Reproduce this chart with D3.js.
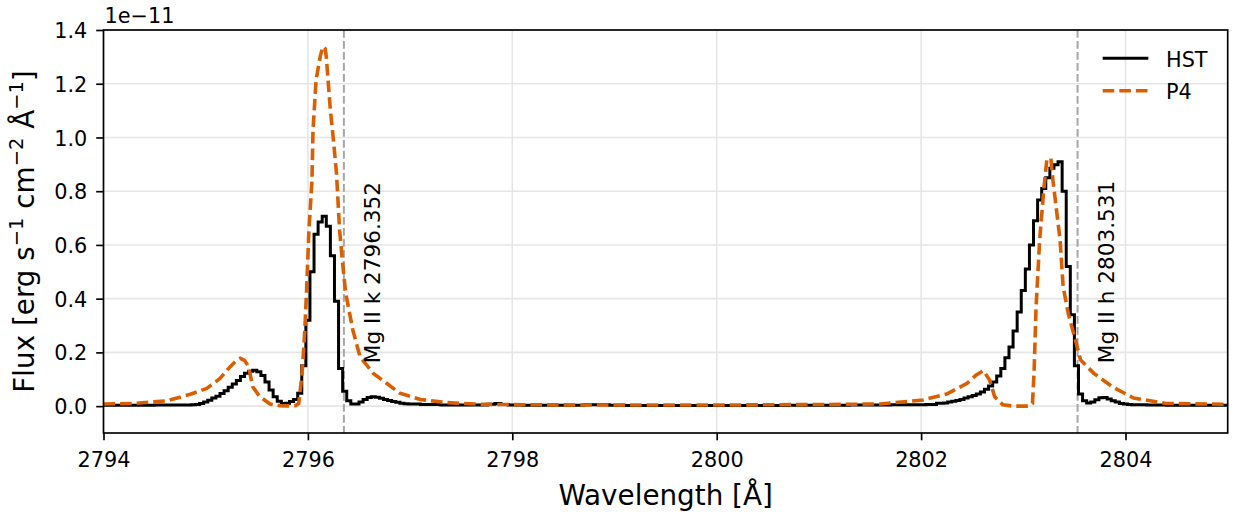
<!DOCTYPE html>
<html><head><meta charset="utf-8">
<script src="https://cdn.jsdelivr.net/npm/d3@7"></script>
<style>
body{margin:0;background:#fff}
svg{display:block;font-family:"DejaVu Sans",sans-serif}
</style>
</head><body>
<svg id="c" width="1235" height="512"></svg>
<script>
// ---- data (flux in units of 1e-11 erg s^-1 cm^-2 A^-1) ----
const hstWave = [2794.0,2794.2,2794.4,2794.6,
 2794.80,2794.84,2794.88,2794.92,2794.96,2795.00,2795.04,2795.08,2795.12,2795.16,2795.20,2795.24,2795.28,2795.32,2795.36,2795.40,2795.44,2795.48,2795.52,2795.56,2795.60,2795.64,2795.68,2795.72,2795.76,2795.80,2795.84,2795.88,2795.92,2795.96,2796.00,2796.04,2796.08,2796.12,2796.16,2796.20,2796.24,2796.28,2796.32,2796.36,2796.40,2796.44,2796.48,2796.52,2796.56,2796.60,2796.64,2796.68,2796.72,2796.76,2796.80,2796.84,2796.88,2796.92,2796.96,2797.00,
 2797.2,2797.4,2797.6,2797.72,2797.80,2797.86,2797.92,2798.0,2798.2,2798.4,2798.6,2798.8,2798.9,2799.0,2799.2,2799.4,2799.6,2799.8,2800.0,2800.2,2800.4,2800.6,2800.8,2801.0,2801.2,2801.4,2801.6,2801.8,2802.0,2802.1,
 2802.20,2802.24,2802.28,2802.32,2802.36,2802.40,2802.44,2802.48,2802.52,2802.56,2802.60,2802.64,2802.68,2802.72,2802.76,2802.80,2802.84,2802.88,2802.92,2802.96,2803.00,2803.04,2803.08,2803.12,2803.16,2803.20,2803.24,2803.28,2803.32,2803.36,2803.40,2803.44,2803.48,2803.52,2803.56,2803.60,2803.64,2803.68,2803.72,2803.76,2803.80,2803.84,2803.88,2803.92,2803.96,2804.00,2804.04,2804.08,2804.12,
 2804.3,2804.5,2804.7,2804.9,2805.0];
const hstFlux = [0.003,0.003,0.003,0.004,
 0.004,0.004,0.005,0.006,0.010,0.015,0.022,0.030,0.037,0.047,0.057,0.070,0.082,0.095,0.110,0.122,0.130,0.134,0.128,0.114,0.090,0.060,0.035,0.018,0.010,0.011,0.017,0.025,0.048,0.150,0.320,0.500,0.640,0.685,0.707,0.670,0.560,0.390,0.140,0.055,0.020,0.008,0.008,0.015,0.025,0.032,0.035,0.033,0.029,0.025,0.021,0.017,0.014,0.011,0.009,0.008,
 0.006,0.004,0.004,0.004,0.007,0.010,0.006,0.004,0.003,0.003,0.003,0.005,0.005,0.003,0.002,0.002,0.002,0.002,0.002,0.002,0.002,0.002,0.003,0.003,0.003,0.004,0.004,0.005,0.005,0.006,
 0.011,0.012,0.015,0.018,0.021,0.025,0.030,0.035,0.040,0.045,0.053,0.063,0.075,0.090,0.112,0.140,0.180,0.220,0.280,0.350,0.430,0.510,0.600,0.690,0.767,0.810,0.850,0.885,0.898,0.910,0.800,0.520,0.340,0.150,0.045,0.020,0.012,0.015,0.024,0.031,0.032,0.027,0.020,0.015,0.010,0.008,0.006,0.005,0.005,
 0.004,0.003,0.003,0.003,0.003];

const p4Wave = [2794.00,2794.30,2794.62,2794.85,2795.01,2795.14,2795.24,2795.30,2795.34,2795.38,2795.42,2795.46,2795.53,2795.63,2795.72,2795.80,2795.88,2795.91,2795.94,2795.95,2795.97,2795.99,2796.01,2796.04,2796.05,2796.08,2796.12,2796.145,2796.17,2796.18,2796.22,2796.25,2796.28,2796.31,2796.34,2796.37,2796.44,2796.51,2796.64,2796.77,2796.90,2797.10,2797.36,2797.68,2798.20,2799.00,2800.00,2801.00,2801.60,2802.02,2802.25,2802.45,2802.54,2802.61,2802.67,2802.72,2802.80,2802.90,2803.05,2803.09,2803.105,2803.125,2803.16,2803.20,2803.23,2803.27,2803.29,2803.36,2803.39,2803.44,2803.51,2803.56,2803.69,2803.88,2804.08,2804.40,2805.00];
const p4Flux = [0.008,0.010,0.020,0.044,0.066,0.103,0.147,0.170,0.178,0.170,0.147,0.072,0.035,0.008,0.002,0.001,0.002,0.010,0.110,0.159,0.283,0.457,0.655,0.841,1.027,1.214,1.300,1.338,1.330,1.300,1.102,0.990,0.866,0.655,0.531,0.420,0.283,0.184,0.122,0.085,0.048,0.025,0.013,0.007,0.005,0.004,0.004,0.006,0.008,0.023,0.045,0.085,0.116,0.132,0.097,0.035,0.005,0.000,0.000,0.010,0.122,0.370,0.618,0.804,0.916,0.922,0.841,0.618,0.444,0.345,0.246,0.172,0.122,0.070,0.030,0.010,0.007];

const seriesNames = ["HST", "P4"];
const lineWaves = [2796.352, 2803.531];
const lineLabels = ["Mg II k 2796.352", "Mg II h 2803.531"];
const xTickValues = [2794, 2796, 2798, 2800, 2802, 2804];
const yTickValues = [0.0, 0.2, 0.4, 0.6, 0.8, 1.0, 1.2, 1.4];
const xDomain = [2794, 2805];
const yDomain = [-0.1, 1.4];

// ---- layout ----
const L = 103.5, R = 1227.7, T = 30, B = 433;
const FS = 20.8, LFS = 27.8, AFS = 21.6;
const orange = "#d95f02";

const svg = d3.select("#c");
const x = d3.scaleLinear().domain(xDomain).range([L, R]);
const y = d3.scaleLinear().domain(yDomain).range([B, T]);

svg.append("defs").append("clipPath").attr("id", "clip")
  .append("rect").attr("x", L).attr("y", T).attr("width", R - L).attr("height", B - T);

// grid
const grid = svg.append("g");
grid.selectAll("line.gx").data(xTickValues).join("line")
  .attr("x1", d => x(d)).attr("x2", d => x(d)).attr("y1", T).attr("y2", B)
  .attr("stroke", "#e6e6e6").attr("stroke-width", 1.6);
grid.selectAll("line.gy").data(yTickValues).join("line")
  .attr("y1", d => y(d)).attr("y2", d => y(d)).attr("x1", L).attr("x2", R)
  .attr("stroke", "#e6e6e6").attr("stroke-width", 1.6);

const plot = svg.append("g").attr("clip-path", "url(#clip)");

// vertical reference lines
plot.selectAll("line.ref").data(lineWaves).join("line")
  .attr("x1", d => x(d)).attr("x2", d => x(d)).attr("y1", T).attr("y2", B)
  .attr("stroke", "#a6a6a6").attr("stroke-width", 2).attr("stroke-dasharray", "7.7,3.3");

const hstData = hstWave.map((w, i) => [w, hstFlux[i]]);
const p4Data = p4Wave.map((w, i) => [w, p4Flux[i]]);

plot.append("path").datum(hstData)
  .attr("d", d3.line().x(d => x(d[0])).y(d => y(d[1])).curve(d3.curveStep))
  .attr("fill", "none").attr("stroke", "#000").attr("stroke-width", 3).attr("stroke-linejoin", "miter");

plot.append("path").datum(p4Data)
  .attr("d", d3.line().x(d => x(d[0])).y(d => y(d[1])))
  .attr("fill", "none").attr("stroke", orange).attr("stroke-width", 3.6)
  .attr("stroke-dasharray", "11.6,5");

// line labels
lineWaves.forEach((w, i) => {
  svg.append("text")
    .attr("transform", `translate(${x(w) + 36.5},${y(0.16)}) rotate(-90)`)
    .attr("font-size", AFS).attr("fill", "#000")
    .text(lineLabels[i]);
});

// spines
svg.append("rect").attr("x", L).attr("y", T).attr("width", R - L).attr("height", B - T)
  .attr("fill", "none").attr("stroke", "#000").attr("stroke-width", 1.67);

// axes
const xAxis = svg.append("g").attr("transform", `translate(0,${B})`)
  .call(d3.axisBottom(x).tickValues(xTickValues).tickSize(7.3).tickPadding(11.9).tickFormat(d3.format("d")));
const yAxis = svg.append("g").attr("transform", `translate(${L},0)`)
  .call(d3.axisLeft(y).tickValues(yTickValues).tickSize(7.3).tickPadding(8.9).tickFormat(d3.format(".1f")));
[xAxis, yAxis].forEach(a => {
  a.select(".domain").remove();
  a.selectAll(".tick line").attr("stroke", "#000").attr("stroke-width", 1.67);
  a.selectAll(".tick text").attr("font-size", FS).attr("font-family", '"DejaVu Sans",sans-serif').attr("fill", "#000");
});
yAxis.selectAll(".tick text").attr("dy", "0.365em");

// offset text
svg.append("text").attr("x", 104.5).attr("y", 23).attr("font-size", FS).text("1e\u221211");

// axis labels
svg.append("text").attr("x", (L + R) / 2).attr("y", 505).attr("text-anchor", "middle")
  .attr("font-size", LFS).text("Wavelength [\u00c5]");

const yl = svg.append("text")
  .attr("transform", `translate(34,${(T + B) / 2}) rotate(-90)`)
  .attr("text-anchor", "middle").attr("font-size", LFS).style("white-space", "pre");
const parts = [["Flux [erg s", 0], ["\u22121", 1], [" cm", 0], ["\u22122", 1], [" \u00c5", 0], ["\u22121", 1], ["]", 0]];
let prevSup = 0;
parts.forEach(([t, sup]) => {
  const dy = sup && !prevSup ? -11 : (!sup && prevSup ? 11 : 0);
  yl.append("tspan").attr("dy", dy).attr("font-size", sup ? LFS * 0.7 : LFS).text(t);
  prevSup = sup;
});

// legend
const leg = svg.append("g");
const legY = [58.3, 90.7];
seriesNames.forEach((n, i) => {
  leg.append("line").attr("x1", 1102.7).attr("x2", 1148.3).attr("y1", legY[i]).attr("y2", legY[i])
    .attr("stroke", i === 0 ? "#000" : orange).attr("stroke-width", i === 0 ? 3 : 3.6)
    .attr("stroke-dasharray", i === 0 ? null : "11.6,5");
  leg.append("text").attr("x", 1166).attr("y", legY[i] + 8.2).attr("font-size", FS).text(n);
});
</script>
</body></html>
